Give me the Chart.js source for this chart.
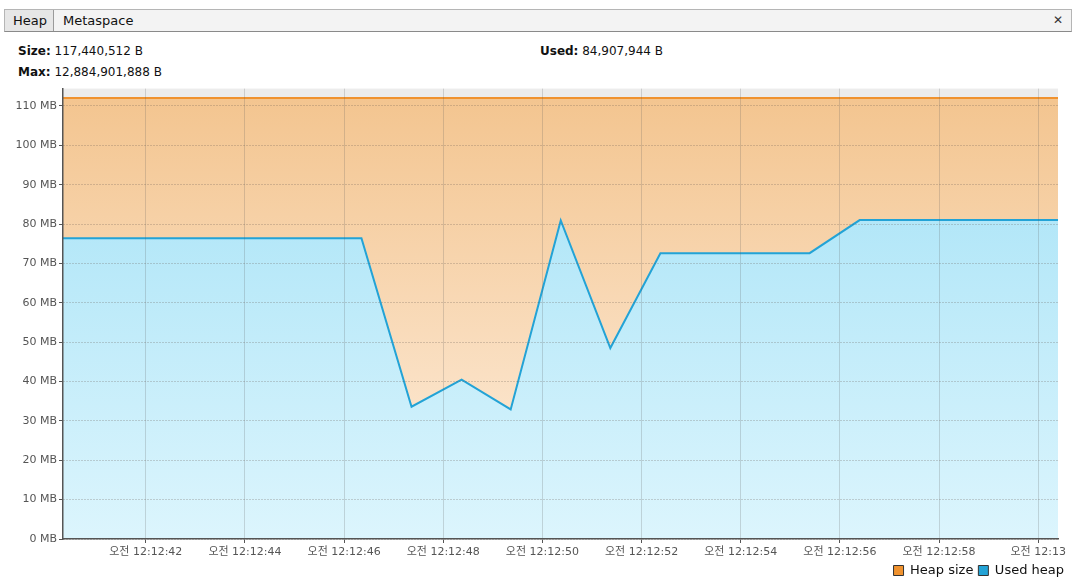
<!DOCTYPE html>
<html>
<head>
<meta charset="utf-8">
<script src="https://cdn.jsdelivr.net/npm/chart.js@4"></script>
<style>
  html, body { margin: 0; padding: 0; background: #ffffff; }
  body { width: 1077px; height: 587px; position: relative; overflow: hidden;
         font-family: "DejaVu Sans", "Noto Sans CJK KR", sans-serif; color: #111; }
  .tabbar { position: absolute; left: 4px; top: 9px; width: 1068px; height: 23px;
            background: #f3f3f3; border: 1px solid #b5b5b5; border-bottom: 1px solid #8a8a8a; box-sizing: border-box; }
  .tab { position: absolute; top: 0; height: 21px; line-height: 21px; font-size: 13px; padding: 0 8px; color: #111; }
  .tab.sel { left: 0; width: 49px; box-sizing: border-box; background: #e6e6e6; border-right: 1px solid #9a9a9a; }
  .tab.other { left: 50px; }
  .close { position: absolute; right: 8px; top: 0; line-height: 21px; font-size: 12px; color: #333; }
  .info { position: absolute; font-size: 12px; }
  .info b { font-weight: bold; }
  #wrap { position: absolute; left: 0; top: 80px; width: 1077px; height: 507px; }
</style>
</head>
<body>
<div class="tabbar">
  <div class="tab sel">Heap</div>
  <div class="tab other">Metaspace</div>
  <div class="close">✕</div>
</div>
<div class="info" style="left:18px; top:44px;"><b>Size:</b> 117,440,512 B</div>
<div class="info" style="left:18px; top:65px;"><b>Max:</b> 12,884,901,888 B</div>
<div class="info" style="left:540px; top:44px;"><b>Used:</b> 84,907,944 B</div>
<div id="wrap"><canvas id="c" width="1077" height="507"></canvas></div>
<script>
// Sample times in seconds after 12:12:00
const timeSec = [40.33, 41.34, 42.34, 43.34, 44.35, 45.35, 46.35, 47.36, 48.37, 49.36, 50.37,
                 51.37, 52.38, 53.38, 54.39, 55.39, 56.40, 57.40, 58.40, 59.40, 60.40];
// Used heap (MB)
const usedHeap = [76.4, 76.4, 76.4, 76.4, 76.4, 76.4, 76.4, 33.6, 40.5, 32.9, 80.9,
                  48.5, 72.6, 72.6, 72.6, 72.6, 81.0, 81.0, 81.0, 81.0, 81.0];
// Heap size (MB)
const heapSize = [112, 112, 112, 112, 112, 112, 112, 112, 112, 112, 112,
                  112, 112, 112, 112, 112, 112, 112, 112, 112, 112];
const seriesNames = ["Heap size", "Used heap"];
const yTickValues = [0, 10, 20, 30, 40, 50, 60, 70, 80, 90, 100, 110];
const xTickValues = [42, 44, 46, 48, 50, 52, 54, 56, 58, 60];

const tickFont = { family: "'DejaVu Sans', 'Noto Sans CJK KR', sans-serif", size: 11 };

function grad(ctx, top, bottom) {
  const ca = ctx.chart.chartArea;
  if (!ca) return top;
  const g = ctx.chart.ctx.createLinearGradient(0, ca.top, 0, ca.bottom);
  g.addColorStop(0, top);
  g.addColorStop(1, bottom);
  return g;
}

const bgPlugin = {
  id: 'plotBg',
  beforeDraw(chart) {
    const { ctx, chartArea: a } = chart;
    ctx.save();
    ctx.fillStyle = '#ececec';
    ctx.fillRect(a.left, a.top, a.right - a.left, a.bottom - a.top);
    ctx.restore();
  }
};

new Chart(document.getElementById('c'), {
  type: 'line',
  data: {
    datasets: [
      {
        label: seriesNames[0],
        data: timeSec.map((t, i) => ({ x: t, y: heapSize[i] })),
        borderColor: '#f0922e',
        borderWidth: 2,
        backgroundColor: (ctx) => grad(ctx, '#f3c48e', '#feefe0'),
        fill: 'origin',
        pointRadius: 0,
        tension: 0,
        order: 2
      },
      {
        label: seriesNames[1],
        data: timeSec.map((t, i) => ({ x: t, y: usedHeap[i] })),
        borderColor: '#23a3d6',
        borderWidth: 2,
        backgroundColor: (ctx) => grad(ctx, '#a2e1f6', '#dcf5fd'),
        fill: 'origin',
        pointRadius: 0,
        tension: 0,
        order: 1
      }
    ]
  },
  options: {
    responsive: false,
    animation: false,
    layout: { padding: { left: 0, right: 8, top: 8, bottom: 0 } },
    plugins: {
      tooltip: { enabled: false },
      legend: {
        position: 'bottom',
        align: 'end',
        labels: {
          boxWidth: 10,
          boxHeight: 10,
          padding: 5,
          color: '#111',
          font: { family: "'DejaVu Sans', sans-serif", size: 13 },
          generateLabels: (chart) => [
            { text: seriesNames[0], fillStyle: '#f0922e', strokeStyle: '#333', lineWidth: 1, datasetIndex: 0, fontColor: '#111' },
            { text: seriesNames[1], fillStyle: '#23a3d6', strokeStyle: '#333', lineWidth: 1, datasetIndex: 1, fontColor: '#111' }
          ]
        }
      }
    },
    scales: {
      x: {
        type: 'linear',
        min: 40.33,
        max: 60.4,
        afterBuildTicks: (s) => { s.ticks = xTickValues.map(v => ({ value: v })); },
        afterFit: (s) => { s.height = 20; },
        ticks: {
          color: '#555',
          font: tickFont,
          maxRotation: 0,
          autoSkip: false,
          padding: 3,
          callback: (v) => v >= 60 ? '오전 12:13' : '오전 12:12:' + String(v).padStart(2, '0')
        },
        grid: {
          z: 1,
          color: 'rgba(90,90,90,0.22)',
          lineWidth: 1,
          drawTicks: true,
          tickLength: 4,
          tickColor: '#555'
        },
        border: { color: '#555', width: 1.5, z: 2 }
      },
      y: {
        min: 0,
        max: 114.4,
        afterBuildTicks: (s) => { s.ticks = yTickValues.map(v => ({ value: v })); },
        afterFit: (s) => { s.width = 63; },
        ticks: {
          color: '#555',
          font: tickFont,
          padding: 2,
          callback: (v) => v + ' MB'
        },
        grid: {
          z: 1,
          color: 'rgba(100,90,80,0.5)',
          lineWidth: 1,
          drawTicks: true,
          tickLength: 4,
          tickColor: '#555',
          tickBorderDash: []
        },
        border: { color: '#555', width: 1.5, z: 2, dash: [1, 2] }
      },
      yR: {
        position: 'right',
        display: true,
        afterFit: (s) => { s.width = 11; },
        ticks: { display: false },
        grid: { display: false },
        border: { display: false }
      }
    }
  },
  plugins: [bgPlugin]
});
</script>
</body>
</html>
